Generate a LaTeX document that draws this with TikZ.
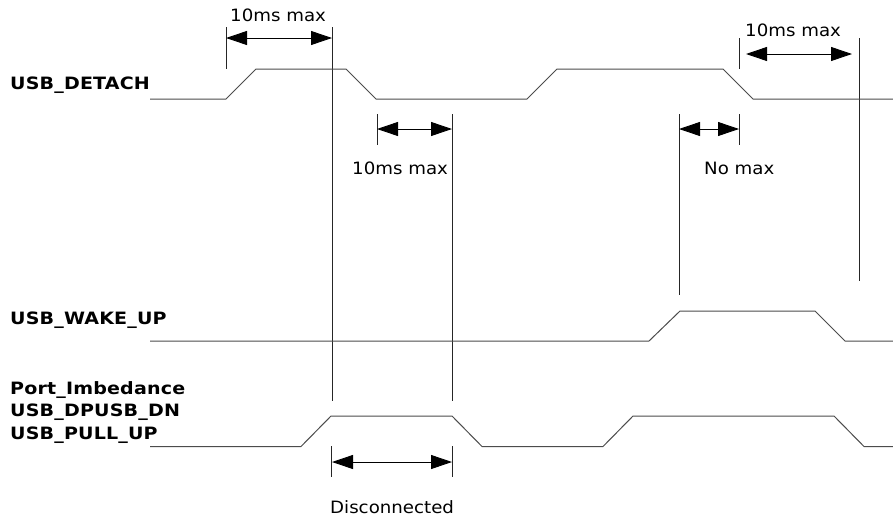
\documentclass[tikz,border=0pt]{standalone}
\usepackage{fontspec}
\setmainfont{DejaVu Sans}
\newfontfamily\labfont[FakeStretch=1.07]{DejaVu Sans}
\newfontfamily\sigfont[FakeStretch=1.12,LetterSpace=1]{DejaVu Sans}
\usetikzlibrary{arrows.meta}
\tikzset{
  x=1pt,y=-1pt,
  sig/.style={draw=black!70,line width=1pt,line join=miter},
  markerline/.style={draw=black!85,line width=0.8pt},
  spanarrow/.style={draw=black,line width=0.9pt,{Triangle[length=21pt,width=14pt]}-{Triangle[length=21pt,width=14pt]}},
  lab/.style={font=\labfont\fontsize{17}{20}\selectfont,text=black,inner sep=0pt,anchor=base west},
  signame/.style={font=\sigfont\fontsize{17}{20}\selectfont\bfseries,anchor=base west,inner sep=0pt},
}
\begin{document}
\begin{tikzpicture}
\useasboundingbox[fill=white] (0,0) rectangle (893,517);
% vertical markers
\draw[markerline] (226,27) -- (226,69);
\draw[markerline] (332,27) -- (332,401);
\draw[markerline] (377,114) -- (377,145);
\draw[markerline] (452,114) -- (452,401);
\draw[markerline] (679,114) -- (679,295);
\draw[markerline] (739,38) -- (739,69);
\draw[markerline] (739,114) -- (739,145);
\draw[markerline] (859,38) -- (859,281);
\draw[markerline] (331,446) -- (331,477);
\draw[markerline] (452,446) -- (452,477);
% waveforms
\draw[sig] (150,99) -- (226,99) -- (256,69) -- (346,69) -- (376,99) -- (527,99) -- (557,69) -- (723,69) -- (753,99) -- (893,99);
\draw[sig] (150,341) -- (649,341) -- (680,311) -- (815,311) -- (845,341) -- (893,341);
\draw[sig] (150,446.5) -- (301,446.5) -- (331,416) -- (452,416) -- (482,446.5) -- (603,446.5) -- (633,416) -- (834,416) -- (864,446.5) -- (893,446.5);
% spans
\coordinate (a1) at (226,38); \coordinate (a2) at (332,38);
\coordinate (b1) at (377,129); \coordinate (b2) at (452,129);
\coordinate (c1) at (679,129); \coordinate (c2) at (739,129);
\coordinate (d1) at (746,54); \coordinate (d2) at (852,54);
\coordinate (e1) at (332,462); \coordinate (e2) at (452,462);
\draw[spanarrow] (a1) -- (a2);
\draw[spanarrow] (b1) -- (b2);
\draw[spanarrow] (c1) -- (c2);
\draw[spanarrow] (d1) -- (d2);
\draw[spanarrow] (e1) -- (e2);
% texts
\node[lab] (t1) at (230,21) {10ms max};
\node[lab] (t2) at (352,174) {10ms max};
\node[lab] (t3) at (704,174) {No max};
\node[lab] (t4) at (745,36) {10ms max};
\node[lab] (t5) at (330,513) {Disconnected};
\node[signame] (n1) at (10,89) {USB\_DETACH};
\node[signame] (n2) at (10,324) {USB\_WAKE\_UP};
\node[signame] (n3) at (10,394) {Port\_Imbedance};
\node[signame] (n4) at (10,416) {USB\_DPUSB\_DN};
\node[signame] (n5) at (10,439) {USB\_PULL\_UP};
\end{tikzpicture}
\end{document}
